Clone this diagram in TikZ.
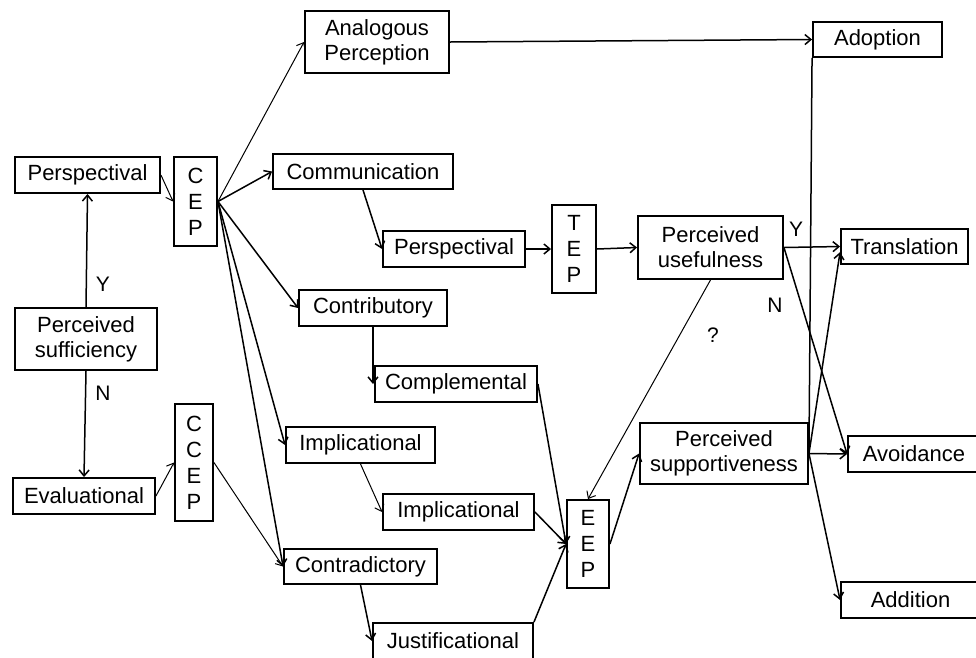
\documentclass[tikz,border=0pt]{standalone}
\usepackage{fontspec}
\setmainfont{Liberation Sans}
\usetikzlibrary{arrows.meta,calc}
\begin{document}
\begin{tikzpicture}[x=1pt,y=-1pt,
  box/.style={draw,line width=1.9pt,inner sep=0pt,align=center,
    font=\fontsize{22}{25}\selectfont},
  stack/.style={box,font=\fontsize{22}{26}\selectfont},
  lbl/.style={inner sep=0pt,font=\fontsize{21}{24}\selectfont},
  arr/.style={line width=1.5pt,-{Straight Barb[length=6pt,width=10pt]}},
  tarr/.style={line width=1pt,-{Straight Barb[length=6pt,width=10pt]}},
  ln/.style={line width=1.5pt}]
\useasboundingbox (0,0) rectangle (976,657);
% left column
\node[box,minimum width=145pt,minimum height=36pt] (persp1) at (87.5,175) {Perspectival};
\node[box,minimum width=142pt,minimum height=62pt] (suff) at (86,339) {Perceived\\sufficiency};
\node[box,minimum width=142pt,minimum height=36pt] (eval) at (84,496) {Evaluational};
\node[stack,minimum width=43pt,minimum height=89pt] (cep) at (195.5,201.5) {C\\E\\P};
\node[stack,minimum width=38pt,minimum height=117pt] (ccep) at (194,462.5) {C\\C\\E\\P};
% middle
\node[box,minimum width=144pt,minimum height=62pt] (analog) at (377,42) {Analogous\\Perception};
\node[box,minimum width=180pt,minimum height=35pt] (comm) at (363,171.5) {Communication};
\node[box,minimum width=142pt,minimum height=36pt] (persp2) at (454,249) {Perspectival};
\node[stack,minimum width=44pt,minimum height=88pt] (tep) at (574,249) {T\\E\\P};
\node[box,minimum width=148pt,minimum height=36pt] (contrib) at (373,308) {Contributory};
\node[box,minimum width=162pt,minimum height=36pt] (compl) at (456,384) {Complemental};
\node[box,minimum width=149pt,minimum height=36pt] (impl1) at (360.5,445) {Implicational};
\node[box,minimum width=151pt,minimum height=36pt] (impl2) at (458.5,512) {Implicational};
\node[box,minimum width=153pt,minimum height=35pt] (contra) at (360.5,566.5) {Contradictory};
\node[box,minimum width=160pt,minimum height=36pt] (justif) at (453,641) {Justificational};
\node[stack,minimum width=42pt,minimum height=88pt] (eep) at (588,544) {E\\E\\P};
% right
\node[box,minimum width=145pt,minimum height=63pt] (pu) at (710.5,247.5) {Perceived\\usefulness};
\node[box,minimum width=168pt,minimum height=61pt] (ps) at (724,453.5) {Perceived\\supportiveness};
\node[box,minimum width=129pt,minimum height=35pt] (adopt) at (877.5,39.5) {Adoption};
\node[box,minimum width=127pt,minimum height=35pt] (transl) at (904.5,246.5) {Translation};
\node[box,minimum width=132pt,minimum height=36pt] (avoid) at (914,454) {Avoidance};
\node[box,minimum width=139pt,minimum height=36pt] (addit) at (910.5,600) {Addition};
% labels
\node[lbl] (ly1) at (103,284) {Y};
\node[lbl] (ln1) at (103,393) {N};
\node[lbl] (ly2) at (796,229) {Y};
\node[lbl] (ln2) at (775,305) {N};
\node[lbl] (lq) at (713,335) {?};
% connectors
\draw[arr] (suff.north) -- (persp1.south);
\draw[arr] (suff.south) -- (eval.north);
\draw[tarr] (persp1.east) -- (cep.west);
\draw[tarr] (eval.east) -- (ccep.west);
\draw[tarr] (cep.east) -- (analog.west);
\draw[arr] (cep.east) -- (comm.west);
\draw[arr] (cep.east) -- (contrib.west);
\draw[arr] (cep.east) -- (impl1.west);
\draw[arr] (cep.east) -- (contra.west);
\draw[tarr] (ccep.east) -- (contra.west);
\draw[arr] (analog.east) -- (adopt.west);
\draw[arr] (comm.south) -- (persp2.west);
\draw[arr] (persp2.east) -- (tep.west);
\draw[arr] (tep.east) -- (pu.west);
\draw[arr] (contrib.south) -- (contrib.south |- compl.west);
\draw[tarr] (impl1.south) -- (impl2.west);
\draw[arr] (contra.south) -- (justif.west);
\draw[arr] (compl.east) -- (eep.west);
\draw[arr] (impl2.east) -- (eep.west);
\draw[arr] (justif.north east) -- (eep.west);
\draw[arr] (eep.east) -- (ps.west);
\draw[tarr] (pu.south) -- (eep.north);
\draw[arr] (pu.east) -- (transl.west);
\draw[arr] (pu.east) -- (avoid.west);
\draw[arr] (ps.east) -- (avoid.west);
\draw[arr] (ps.east) -- (addit.west);
\draw[arr] (ps.east) -- (transl.185);
\draw[ln] (ps.east) -- (adopt.south west);
\end{tikzpicture}
\end{document}
